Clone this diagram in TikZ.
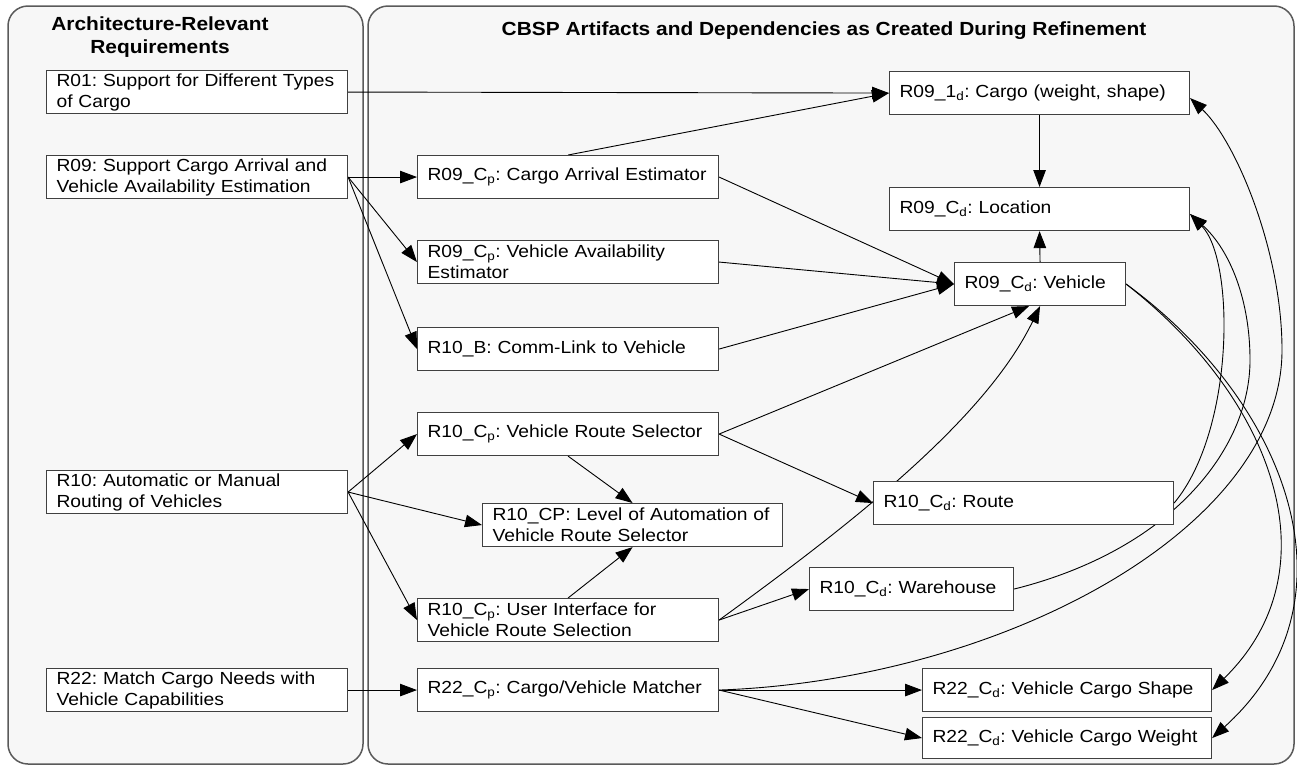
\documentclass[tikz,border=0pt]{standalone}
\usepackage{fontspec}
\setmainfont{Liberation Sans}[FakeStretch=1.1]
\usetikzlibrary{arrows.meta}
\pgfdeclarelayer{bg}
\pgfdeclarelayer{edges}
\pgfsetlayers{bg,edges,main}
\definecolor{panelfill}{HTML}{F7F7F7}
\definecolor{panelline}{HTML}{5A5A5A}
\definecolor{boxline}{HTML}{404040}
\frenchspacing
\begin{document}
\begin{tikzpicture}[x=1pt,y=-1pt,
  box/.style={draw=boxline, line width=1.1pt, fill=white, anchor=north west,
    inner xsep=10pt, inner ysep=0pt, minimum height=43pt, align=left,
    font=\fontsize{17.5}{21}\selectfont\frenchspacing},
  panel/.style={draw=panelline, line width=1.5pt, fill=panelfill, rounded corners=20pt},
  ttl/.style={anchor=base, font=\fontsize{19}{23}\selectfont\bfseries},
  arr/.style={line width=0.9pt, -{Triangle[length=17pt,width=12.5pt]}}
]
\useasboundingbox (0,0) rectangle (1297,766);
\begin{pgfonlayer}{bg}
\draw[panel] (8,6) rectangle (363,764);
\draw[panel] (368,6) rectangle (1294,764);
\end{pgfonlayer}

% titles
\node[ttl] (t1) at (160,30) {Architecture-Relevant};
\node[ttl] (t2) at (160,53) {Requirements};
\node[ttl] (t3) at (824,35) {CBSP Artifacts and Dependencies as Created During Refinement};

% left column
\node[box, text width=281pt] (r01) at (46,70) {\mbox{R01: Support for Different Types}\\\mbox{of Cargo}};
\node[box, text width=281pt] (r09) at (46,155) {\mbox{R09: Support Cargo Arrival and}\\\mbox{Vehicle Availability Estimation}};
\node[box, text width=281pt] (r10) at (46,470) {\mbox{R10: Automatic or Manual}\\\mbox{Routing of Vehicles}};
\node[box, text width=281pt] (r22) at (46,668) {\mbox{R22: Match Cargo Needs with}\\\mbox{Vehicle Capabilities}};

% right panel
\node[box, text width=281pt] (cae) at (417,155) {\mbox{R09\_C\textsubscript{p}: Cargo Arrival Estimator}};
\node[box, text width=281pt] (vae) at (417,240) {\mbox{R09\_C\textsubscript{p}: Vehicle Availability}\\\mbox{Estimator}};
\node[box, text width=281pt] (clv) at (417,327) {\mbox{R10\_B: Comm-Link to Vehicle}};
\node[box, text width=281pt] (vrs) at (417,412) {\mbox{R10\_C\textsubscript{p}: Vehicle Route Selector}};
\node[box, text width=280pt] (loa) at (482,503) {\mbox{R10\_CP: Level of Automation of}\\\mbox{Vehicle Route Selector}};
\node[box, text width=281pt] (ui) at (417,598) {\mbox{R10\_C\textsubscript{p}: User Interface for}\\\mbox{Vehicle Route Selection}};
\node[box, text width=281pt] (cvm) at (417,668) {\mbox{R22\_C\textsubscript{p}: Cargo/Vehicle Matcher}};
\node[box, text width=280pt] (cwd) at (889,71) {\mbox{R09\_1\textsubscript{d}: Cargo (weight, shape)}};
\node[box, text width=280pt] (loc) at (889,187) {\mbox{R09\_C\textsubscript{d}: Location}};
\node[box, text width=151pt] (veh) at (954,262) {\mbox{R09\_C\textsubscript{d}: Vehicle}};
\node[box, text width=280pt] (rte) at (873,481) {\mbox{R10\_C\textsubscript{d}: Route}};
\node[box, text width=184pt] (wh) at (809,567) {\mbox{R10\_C\textsubscript{d}: Warehouse}};
\node[box, text width=269pt] (shp) at (922,668) {\mbox{R22\_C\textsubscript{d}: Vehicle Cargo Shape}};
\node[box, text width=269pt, minimum height=41pt] (wgt) at (922,717) {\mbox{R22\_C\textsubscript{d}: Vehicle Cargo Weight}};

\begin{pgfonlayer}{edges}
\draw[arr] (r01.east) -- (cwd.west);
\draw[arr] (cae.north) -- (cwd.west);
\draw[arr] (r09.east) -- (cae.west);
\draw[arr] (r09.east) -- (vae.west);
\draw[arr] (r09.east) -- (clv.west);
\draw[arr] (cae.east) -- (veh.west);
\draw[arr] (vae.east) -- (veh.west);
\draw[arr] (clv.east) -- (veh.west);
\draw[arr] (vrs.east) -- ([xshift=-11pt]veh.south);
\draw[arr] (vrs.east) -- (rte.west);
\draw[arr] (vrs.south) -- (loa.north);
\draw[arr] (ui.north) -- (loa.south);
\draw[arr] (r10.east) -- (vrs.west);
\draw[arr] (r10.east) -- (loa.west);
\draw[arr] (r10.east) -- (ui.west);
\draw[arr] (ui.east) -- (wh.west);
\draw[arr] (ui.east) .. controls (850,525) and (985,420) .. (veh.south);
\draw[arr] (r22.east) -- (cvm.west);
\draw[arr] (cvm.east) -- (shp.west);
\draw[arr] (cvm.east) -- (wgt.west);
\draw[arr] (cwd.south) -- (loc.north);
\draw[arr] (veh.north) -- (loc.south);
\draw[arr] (rte.east) .. controls (1235,430) and (1235,260) .. ([yshift=-5pt]loc.east);
\draw[arr] (wh.east) .. controls (1170,550) and (1250,450) .. (1250,360)
  .. controls (1250,300) and (1230,250) .. ([yshift=-5pt]loc.east);
\draw[arr] (cvm.east) .. controls (1000,680) and (1282,530) .. (1282,350)
  .. controls (1282,250) and (1235,140) .. ([yshift=-5pt]cwd.east);
\draw[arr] (veh.east) .. controls (1275,400) and (1335,570) .. (shp.east);
\draw[arr] (veh.east) .. controls (1285,400) and (1365,600) .. (wgt.east);
\end{pgfonlayer}
\end{tikzpicture}
\end{document}
